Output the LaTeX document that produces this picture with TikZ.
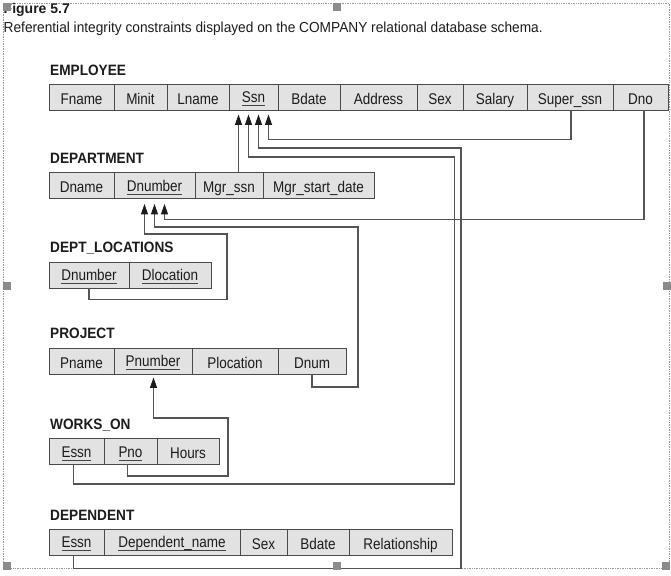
\documentclass[tikz,border=0pt]{standalone}
\usepackage{fontspec}
\setmainfont{Liberation Sans}
\newfontfamily\cellfont[FakeStretch=0.87]{Liberation Sans}
\newfontfamily\headfont[FakeStretch=0.91]{Liberation Sans}
\newfontfamily\capfont[FakeStretch=0.945]{Liberation Sans}
\usetikzlibrary{arrows.meta}
\definecolor{cellfill}{HTML}{E2E2E2}
\definecolor{cellline}{HTML}{4A4A4A}
\definecolor{wire}{HTML}{555555}
\definecolor{ink}{HTML}{1C1C1C}
\definecolor{uline}{HTML}{444444}
\definecolor{handlegray}{HTML}{8C8C8C}
\definecolor{frameline}{HTML}{9A9A9A}
\newsavebox\keybox
\newcommand\keyattr[1]{\sbox\keybox{#1}\rlap{\color{uline}\rule[-3.6pt]{\wd\keybox}{0.8pt}}\usebox\keybox}
\begin{document}
\begin{tikzpicture}[x=1pt,y=-1pt,
  cell/.style={draw=cellline, fill=cellfill, line width=0.9pt, minimum height=26pt,
    inner sep=0pt, text height=14pt, text depth=0pt,
    font=\cellfont\fontsize{15.5}{18}\selectfont, text=ink},
  keycell/.style={cell, text height=12pt, text depth=1pt},
  tname/.style={anchor=base west, inner sep=0pt,
    font=\headfont\bfseries\fontsize{15}{18}\selectfont, text=ink},
  fk/.style={draw=wire, line width=1.1pt,
    -{Triangle[length=10.5pt,width=7pt,color=ink]}},
  handle/.style={fill=handlegray}
]
\useasboundingbox (0,0) rectangle (671,575);
\fill[white] (0,0) rectangle (671,575);
\draw[frameline, densely dotted, line width=0.7pt] (3.5,3.5) rectangle (669.5,568.5);

% caption
\node[anchor=base west, inner sep=0pt, font=\bfseries\fontsize{14}{16}\selectfont, text=ink] (fig) at (3.5,14) {Figure 5.7};
\node[anchor=base west, inner sep=0pt, font=\capfont\fontsize{14.5}{17}\selectfont, text=ink] (cap) at (3.5,32.3)
  {Referential integrity constraints displayed on the COMPANY relational database schema.};

% table names
\node[tname] (t-emp) at (50,75.5) {EMPLOYEE};
\node[tname] (t-dep) at (50,163.3) {DEPARTMENT};
\node[tname] (t-dl) at (50,252.3) {DEPT\_LOCATIONS};
\node[tname] (t-proj) at (50,338.3) {PROJECT};
\node[tname] (t-wo) at (50,429.3) {WORKS\_ON};
\node[tname] (t-dp) at (50,520) {DEPENDENT};

% EMPLOYEE
\node[cell, minimum width=65pt] (e-fname) at (81.5,97) {Fname};
\node[cell, minimum width=53pt] (e-minit) at (140.5,97) {Minit};
\node[cell, minimum width=62pt] (e-lname) at (198,97) {Lname};
\node[keycell, minimum width=49pt] (e-ssn) at (253.5,97) {\keyattr{Ssn}};
\node[cell, minimum width=62pt] (e-bdate) at (309,97) {Bdate};
\node[cell, minimum width=77pt] (e-addr) at (378.5,97) {Address};
\node[cell, minimum width=46pt] (e-sex) at (440,97) {Sex};
\node[cell, minimum width=64pt] (e-salary) at (495,97) {Salary};
\node[cell, minimum width=86pt] (e-super) at (570,97) {Super\_ssn};
\node[cell, minimum width=55pt] (e-dno) at (640.5,97) {Dno};

% DEPARTMENT
\node[cell, minimum width=65pt] (d-dname) at (81.5,185.5) {Dname};
\node[keycell, minimum width=81pt] (d-dnum) at (154.5,185.5) {\keyattr{Dnumber}};
\node[cell, minimum width=68pt] (d-mgr) at (229,185.5) {Mgr\_ssn};
\node[cell, minimum width=111pt] (d-mgrdate) at (318.5,185.5) {Mgr\_start\_date};

% DEPT_LOCATIONS
\node[keycell, minimum width=80pt] (l-dnum) at (89,275) {\keyattr{Dnumber}};
\node[keycell, minimum width=82pt] (l-dloc) at (170,275) {\keyattr{Dlocation}};

% PROJECT
\node[cell, minimum width=65pt] (p-pname) at (81.5,361) {Pname};
\node[keycell, minimum width=78pt] (p-pnum) at (153,361) {\keyattr{Pnumber}};
\node[cell, minimum width=86pt] (p-ploc) at (235,361) {Plocation};
\node[cell, minimum width=68pt] (p-dnum) at (312,361) {Dnum};

% WORKS_ON
\node[keycell, minimum width=55pt] (w-essn) at (76.5,451.5) {\keyattr{Essn}};
\node[keycell, minimum width=53pt] (w-pno) at (130.5,451.5) {\keyattr{Pno}};
\node[cell, minimum width=62pt] (w-hours) at (188,451.5) {Hours};

% DEPENDENT
\node[keycell, minimum width=55pt] (dp-essn) at (76.5,542) {\keyattr{Essn}};
\node[keycell, minimum width=136pt] (dp-name) at (172,542) {\keyattr{Dependent\_name}};
\node[cell, minimum width=47pt] (dp-sex) at (263.5,542) {Sex};
\node[cell, minimum width=62pt] (dp-bdate) at (318,542) {Bdate};
\node[cell, minimum width=103pt] (dp-rel) at (400.5,542) {Relationship};

% connectors
\draw[fk] ([xshift=1pt]e-super.south) -- ++(0,29) -| ([xshift=15pt,yshift=-4pt]e-ssn.south);
\draw[fk] ([xshift=9.5pt]d-mgr.north) -- ([xshift=-15pt,yshift=-4pt]e-ssn.south);
\draw[fk] ([xshift=-3pt]dp-essn.south) -- ++(0,13) -| (461,148) -| ([xshift=5pt,yshift=-4pt]e-ssn.south);
\draw[fk] ([xshift=-3pt]w-essn.south) -- ++(0,19) -| (454.5,157) -| ([xshift=-5pt,yshift=-4pt]e-ssn.south);
\draw[fk] ([xshift=3.5pt]e-dno.south) -- ++(0,109) -| ([xshift=10pt,yshift=-5pt]d-dnum.south);
\draw[fk] (p-dnum.south) -- ++(0,12.5) -| (358,227) -| ([yshift=-5pt]d-dnum.south);
\draw[fk] (l-dnum.south) -- ++(0,11) -| (227,234) -| ([xshift=-10pt,yshift=-5pt]d-dnum.south);
\draw[fk] ([xshift=-3pt]w-pno.south) -- ++(0,11) -| (228,418) -| ([xshift=0.5pt,yshift=-3pt]p-pnum.south);

% selection handles
\fill[handle] (3,3) rectangle ++(8,8);
\fill[handle] (333,3) rectangle ++(8,8);
\fill[handle] (3,282) rectangle ++(8,8);
\fill[handle] (663,282) rectangle ++(8,8);
\fill[handle] (3,562) rectangle ++(8,8);
\fill[handle] (333,562) rectangle ++(8,8);
\fill[handle] (662,562) rectangle ++(8,8);
\end{tikzpicture}
\end{document}
